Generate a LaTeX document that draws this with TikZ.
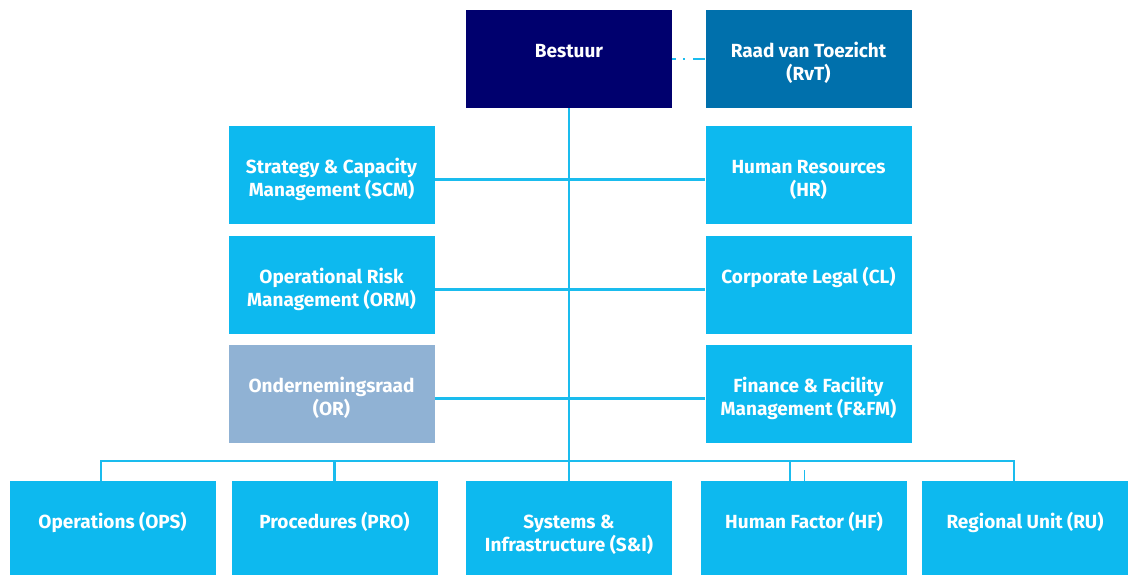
\documentclass[tikz,border=0pt]{standalone}
\usepackage{fontspec}
\setmainfont{Fira Sans}
\usetikzlibrary{calc}

\definecolor{navy}{RGB}{0,0,110}
\definecolor{rvtblue}{RGB}{0,112,172}
\definecolor{skyblue}{RGB}{13,185,239}
\definecolor{greyblue}{RGB}{144,178,212}
\definecolor{linkblue}{RGB}{26,188,238}

\tikzset{
  unit/.style={fill=skyblue, text=white, minimum width=206pt, minimum height=98pt,
    inner sep=0pt, align=center, font=\fontsize{19}{23}\selectfont\bfseries,
    text height=47pt, text depth=4pt},
  link/.style={linkblue, line width=2.5pt}
}

\begin{document}
\begin{tikzpicture}[x=1pt, y=-1pt]
\useasboundingbox (0,0) rectangle (1130,575);

\node[unit, fill=navy] (bestuur) at (569,59) {Bestuur\\~};
\node[unit, fill=rvtblue] (rvt) at (808.5,59) {Raad van Toezicht\\(RvT)};

\node[unit] (scm) at (331.5,175) {Strategy \& Capacity\\Management (SCM)};
\node[unit] (hr) at (808.5,175) {Human Resources\\(HR)};
\node[unit] (orm) at (331.5,285) {Operational Risk\\Management (ORM)};
\node[unit] (cl) at (808.5,285) {Corporate Legal (CL)\\~};
\node[unit, fill=greyblue] (or) at (331.5,394) {Ondernemingsraad\\(OR)};
\node[unit] (ffm) at (808.5,394) {Finance \& Facility\\Management (F\&FM)};

\node[unit] (ops) at (112.5,530) {Operations (OPS)\\~};
\node[unit] (pro) at (334.5,530) {Procedures (PRO)\\~};
\node[unit] (si) at (569,530) {Systems \&\\Infrastructure (S\&I)};
\node[unit] (hf) at (804,530) {Human Factor (HF)\\~};
\node[unit] (ru) at (1025,530) {Regional Unit (RU)\\~};

\coordinate (bus) at (0,461);
\coordinate (opsdrop) at ([xshift=-11.5pt]ops.north);
\coordinate (rudrop) at ([xshift=-11pt]ru.north);

\draw[link, dash pattern=on 4pt off 7pt on 2pt off 8pt on 12pt] (bestuur.east) -- (rvt.west);
\draw[link] (bestuur.south) -- (si.north);
\foreach \a/\b in {scm/hr, orm/cl, or/ffm}
  \draw[link] ([yshift=-4.5pt]\a.east) -- ([yshift=-4.5pt]\b.west);

\draw[link] (opsdrop) -- (opsdrop |- bus) -- (rudrop |- bus) -- (rudrop);
\draw[link] (pro.north) -- (pro.north |- bus);
\draw[link] ([xshift=-14pt]hf.north) -- ([xshift=-14pt]hf.north |- bus);
\draw[linkblue, line width=1pt] (hf.north) -- ++(0,-11);

\end{tikzpicture}
\end{document}
